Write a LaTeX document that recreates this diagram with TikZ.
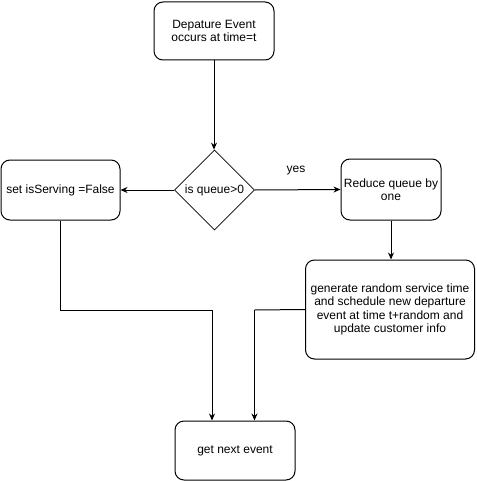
\documentclass[tikz,border=0pt]{standalone}
\usepackage{fontspec}
\setmainfont{Liberation Sans}
\usetikzlibrary{shapes.geometric,arrows.meta}
\begin{document}
\begin{tikzpicture}[x=1pt,y=-1pt,
  every node/.style={font=\fontsize{12}{13.5}\selectfont, align=center, inner sep=0pt},
  stepbox/.style={draw, rounded corners=9pt, line width=1pt},
  decision/.style={draw, diamond, line width=0.8pt, minimum width=80pt, minimum height=80pt, inner sep=0pt},
  link/.style={line width=1pt, -{Stealth[length=7pt,width=6pt]}},
  plain/.style={line width=1pt}
]
\useasboundingbox (0,0) rectangle (476,481);

\node[stepbox, minimum width=120pt, minimum height=58pt] (start) at (214,31) {Depature Event\\occurs at time=t};
\node[decision] (q) at (214.5,190) {is queue>0};
\node[stepbox, minimum width=119pt, minimum height=60pt] (idle) at (60.5,190) {set isServing =False};
\node[stepbox, minimum width=100pt, minimum height=61pt] (dec) at (391,189.5) {Reduce queue by\\one};
\node[stepbox, minimum width=169pt, minimum height=99pt] (gen) at (390,309.5) {generate random service time\\and schedule new departure\\event at time t+random and\\update customer info};
\node[stepbox, minimum width=120pt, minimum height=59pt] (next) at (235,450.5) {get next event};

\node (yes) at (296,171) {yes};

\coordinate (j1) at (212,310);
\coordinate (j2) at (254.5,310);

\draw[link] (start.south) -- (start.south |- q.north);
\draw[link] (q.west) -- (idle.east);
\draw[link] (q.east) -- (dec.west);
\draw[link] (dec.south) -- (dec.south |- gen.north);
\draw[plain] (idle.south) |- (j1);
\draw[link] (j1) -- (j1 |- next.north);
\draw[plain] (gen.west) -- (j2);
\draw[link] (j2) -- (j2 |- next.north);
\end{tikzpicture}
\end{document}
